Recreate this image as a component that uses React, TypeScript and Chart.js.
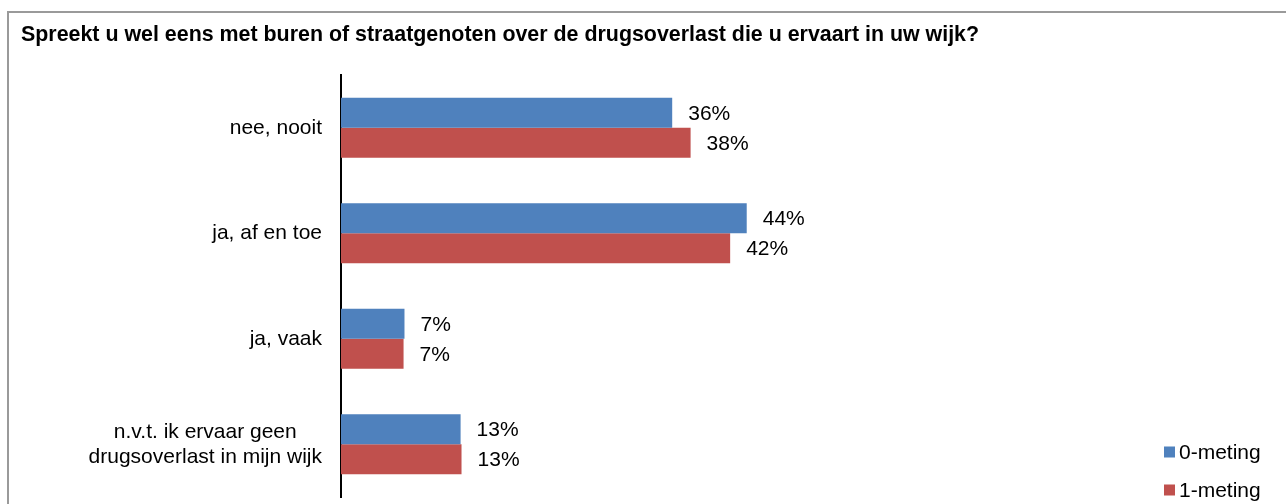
import React, { useEffect, useRef } from "react";
import { Chart, registerables } from "chart.js";

Chart.register(...registerables);

const TITLE = "Spreekt u wel eens met buren of straatgenoten over de drugsoverlast die u ervaart in uw wijk?";
const categories: string[][] = [
  ["nee, nooit"],
  ["ja, af en toe"],
  ["ja, vaak"],
  ["n.v.t. ik ervaar geen", "drugsoverlast in mijn wijk"],
];
const seriesNames = ["0-meting", "1-meting"];
const meting0 = [36.0, 44.1, 6.9, 13.0];
const meting1 = [38.0, 42.3, 6.8, 13.1];
const colors = ["#4F81BD", "#C0504D"];

const FONT = '"Liberation Sans", Arial, sans-serif';

const decorPlugin = {
  id: "decor",
  afterDatasetsDraw(chart: any) {
    const ctx = chart.ctx as CanvasRenderingContext2D;
    const yScale = chart.scales.y;
    ctx.save();
    // title
    ctx.fillStyle = "#000";
    ctx.font = `bold 21.4px ${FONT}`;
    ctx.textAlign = "left";
    ctx.textBaseline = "alphabetic";
    ctx.fillText(TITLE, 21, 41);

    // category labels (right-aligned block, lines centered within block)
    ctx.font = `21px ${FONT}`;
    ctx.textBaseline = "middle";
    const rightX = chart.chartArea.left - 19;
    const lh = 25;
    categories.forEach((lines, i) => {
      const cy = yScale.getPixelForValue(i);
      const widths = lines.map((l) => ctx.measureText(l).width);
      const maxW = Math.max(...widths);
      const centerX = rightX - maxW / 2;
      lines.forEach((l, j) => {
        const y = cy + (j - (lines.length - 1) / 2) * lh;
        ctx.textAlign = "center";
        ctx.fillText(l, centerX, y);
      });
    });

    // data labels
    ctx.textAlign = "left";
    chart.data.datasets.forEach((ds: any, di: number) => {
      const meta = chart.getDatasetMeta(di);
      meta.data.forEach((bar: any, i: number) => {
        const v = ds.data[i];
        ctx.fillText(Math.round(v) + "%", bar.x + 16, bar.y + 1);
      });
    });

    // legend
    const legendX = 1164;
    const legendY = [452, 490];
    seriesNames.forEach((name, i) => {
      ctx.fillStyle = colors[i];
      ctx.fillRect(legendX, legendY[i] - 5.5, 11, 11);
      ctx.fillStyle = "#000";
      ctx.textAlign = "left";
      ctx.fillText(name, legendX + 15, legendY[i] + 1);
    });
    ctx.restore();
  },
};

export default function App() {
  const canvasRef = useRef<HTMLCanvasElement | null>(null);

  useEffect(() => {
    const canvas = canvasRef.current;
    if (!canvas) return;
    const chart = new Chart(canvas, {
      type: "bar",
      data: {
        labels: categories.map((c) => c.join(" ")),
        datasets: [
          { label: seriesNames[0], data: meting0, backgroundColor: colors[0], categoryPercentage: 0.57, barPercentage: 1 },
          { label: seriesNames[1], data: meting1, backgroundColor: colors[1], categoryPercentage: 0.57, barPercentage: 1 },
        ],
      },
      options: {
        indexAxis: "y",
        responsive: false,
        animation: false,
        events: [],
        layout: { padding: { top: 75, bottom: 7, left: 0, right: 25 } },
        plugins: {
          legend: { display: false },
          title: { display: false },
          tooltip: { enabled: false },
        },
        scales: {
          x: { display: false, min: 0, max: 100 },
          y: {
            display: true,
            ticks: { display: false },
            grid: { display: true, drawTicks: false, drawOnChartArea: false, color: "rgba(0,0,0,0)" },
            border: { display: true, color: "#000", width: 2 },
            afterFit: (scale: any) => {
              scale.width = 341;
            },
          },
        },
      },
      plugins: [decorPlugin],
    });
    return () => chart.destroy();
  }, []);

  return (
    <div style={{ position: "fixed", left: 0, top: 0, width: 1286, height: 504, overflow: "hidden", background: "#fff" }}>
      <div
        style={{
          position: "absolute",
          left: 7,
          top: 11,
          width: 1400,
          height: 600,
          border: "2px solid #9a9a9a",
          boxSizing: "border-box",
        }}
      />
      <canvas ref={canvasRef} width={1286} height={504} style={{ position: "absolute", left: 0, top: 0 }} />
    </div>
  );
}
